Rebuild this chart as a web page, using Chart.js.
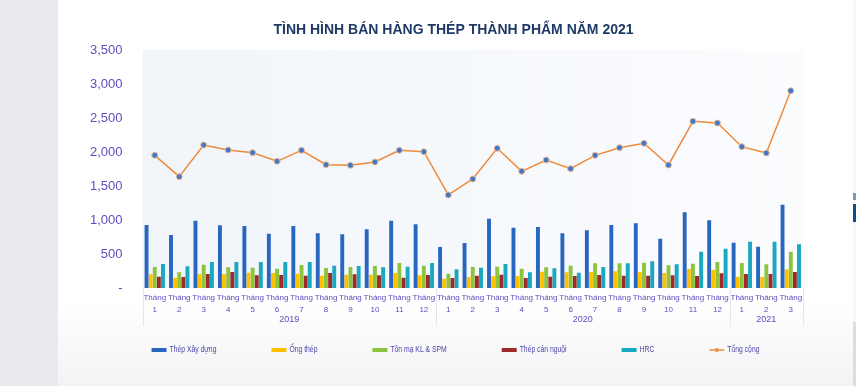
<!DOCTYPE html>
<html>
<head>
<meta charset="utf-8">
<script src="https://cdn.jsdelivr.net/npm/chart.js@4.4.0/dist/chart.umd.min.js"></script>
<style>
body { margin:0; width:856px; height:386px; overflow:hidden; position:relative; background:#e9eaee; }
#card { position:absolute; left:58px; top:0; width:795px; height:386px; background:linear-gradient(to bottom, #ffffff 78%, #f3f3f5); }
#edge { position:absolute; left:853px; top:0; width:3px; height:386px; background:#f7f7f8; }
#edge .a { position:absolute; left:0; top:193px; width:3px; height:7px; background:#6f9cc4; }
#edge .b { position:absolute; left:0; top:204px; width:3px; height:18px; background:#0b4f8f; }
#edge .c { position:absolute; left:0; top:322px; width:3px; height:64px; background:#dcdde3; }
</style>
</head>
<body>
<div id="card"><canvas id="myChart" width="795" height="386"></canvas></div>
<div id="edge"><div class="a"></div><div class="b"></div><div class="c"></div></div>
<script>
const months = ['1','2','3','4','5','6','7','8','9','10','11','12',
                '1','2','3','4','5','6','7','8','9','10','11','12',
                '1','2','3'];
const years = ['2019', '2020', '2021'];
const yearCounts = [12, 12, 3];

const thepXayDung = [926,779,990,922,912,799,912,804,789,863,990,936, 603,662,1019,887,897,804,848,926,951,725,1113,995, 667,608,1225];
const ongThep = [201,151,201,201,225,221,211,181,196,196,221,186, 137,162,172,176,240,231,235,245,231,221,279,265, 166,162,275];
const tonMa = [309,231,343,304,299,284,338,294,309,323,368,328, 211,309,314,284,304,328,363,363,373,333,358,382, 368,348,534];
const thepCanNguoi = [166,162,206,235,186,191,181,221,201,186,152,191, 147,181,196,147,166,176,191,181,181,186,176,216, 206,206,235];
const hrc = [353,319,382,382,382,382,382,328,323,304,314,368, 275,299,353,231,289,225,309,363,392,348,534,578, 681,681,642];
const tongCong = [1951,1637,2103,2029,1990,1863,2025,1813,1804,1853,2025,2004, 1368,1603,2054,1716,1882,1755,1951,2063,2128,1809,2451,2426, 2078,1985,2901];

const title = 'TÌNH HÌNH BÁN HÀNG THÉP THÀNH PHẨM NĂM 2021';
const labelColor = '#5a4fbf';
const fontFamily = '"Liberation Sans", Arial, sans-serif';

// title, plot background, year groups under the month labels, legend row
const groupPlugin = {
  id: 'groups',
  beforeDraw(chart) {
    const {ctx, chartArea: a} = chart;
    const g = ctx.createLinearGradient(a.left, 0, a.right, 0);
    g.addColorStop(0, '#f1f5fa');
    g.addColorStop(1, '#fbfcfe');
    ctx.save();
    ctx.fillStyle = g;
    ctx.fillRect(a.left, a.top, a.right - a.left, a.bottom - a.top);
    ctx.fillStyle = '#1f3a66';
    ctx.font = 'bold 14px ' + fontFamily;
    ctx.textAlign = 'center';
    ctx.textBaseline = 'middle';
    ctx.fillText(title, chart.width / 2 - 2, 30);
    ctx.restore();
  },
  afterDraw(chart) {
    const {ctx} = chart;
    const x = chart.scales.x;
    const half = (x.getPixelForValue(1) - x.getPixelForValue(0)) / 2;
    ctx.save();
    ctx.strokeStyle = '#e1e6ef';
    ctx.lineWidth = 1;
    ctx.fillStyle = labelColor;
    ctx.font = '9px ' + fontFamily;
    ctx.textAlign = 'center';
    ctx.textBaseline = 'middle';
    let start = 0;
    yearCounts.forEach((n, i) => {
      const left = x.getPixelForValue(start) - half;
      const right = x.getPixelForValue(start + n - 1) + half;
      [left, right].forEach(px => {
        ctx.beginPath();
        ctx.moveTo(Math.round(px) + 0.5, x.top);
        ctx.lineTo(Math.round(px) + 0.5, x.top + 38);
        ctx.stroke();
      });
      ctx.fillText(years[i], (left + right) / 2, x.top + 32);
      start += n;
    });

    // legend
    const gap = 55, box = 15, sx = 0.8, y = chart.height - 36;
    ctx.font = '8.5px ' + fontFamily;
    ctx.textAlign = 'left';
    const sets = chart.data.datasets;
    const widths = sets.map(d => box + 3 + ctx.measureText(d.label).width * sx);
    const total = widths.reduce((s, w) => s + w, 0) + gap * (sets.length - 1);
    let cx = (chart.width - total) / 2;
    sets.forEach((d, i) => {
      if (d.type === 'line') {
        ctx.strokeStyle = d.borderColor;
        ctx.lineWidth = 1.5;
        ctx.beginPath();
        ctx.moveTo(cx, y);
        ctx.lineTo(cx + box, y);
        ctx.stroke();
        ctx.beginPath();
        ctx.arc(cx + box / 2, y, 2, 0, Math.PI * 2);
        ctx.fillStyle = d.borderColor;
        ctx.fill();
      } else {
        ctx.fillStyle = d.backgroundColor;
        ctx.fillRect(cx, y - 2, box, 4);
      }
      ctx.save();
      ctx.translate(cx + box + 3, y);
      ctx.scale(sx, 1);
      ctx.fillStyle = '#4a44a8';
      ctx.fillText(d.label, 0, 0);
      ctx.restore();
      cx += widths[i] + gap;
    });
    ctx.restore();
  }
};

function bar(label, data, color) {
  return {
    type: 'bar', label: label, data: data,
    backgroundColor: color, borderWidth: 0,
    categoryPercentage: 0.84, barPercentage: 0.95, order: 1
  };
}

let ctx = document.getElementById('myChart');
let myChart = new Chart(ctx, {
  data: {
    labels: months.map(m => ['Tháng', m]),
    datasets: [
      bar('Thép Xây dựng', thepXayDung, '#2866c0'),
      bar('Ống thép', ongThep, '#ffc000'),
      bar('Tôn mạ KL & SPM', tonMa, '#8cc43f'),
      bar('Thép cán nguội', thepCanNguoi, '#9e2a2b'),
      bar('HRC', hrc, '#18a8c0'),
      {
        type: 'line', label: 'Tổng cộng', data: tongCong,
        borderColor: '#ef8a3c', backgroundColor: '#ef8a3c', borderWidth: 1.5,
        pointRadius: 3, pointBackgroundColor: '#3f78c8', pointBorderColor: '#f3b98f',
        pointBorderWidth: 1, order: 0
      }
    ]
  },
  options: {
    responsive: false,
    animation: false,
    layout: { padding: { top: 50, left: 12, right: 50, bottom: 57 } },
    plugins: {
      legend: { display: false },
      tooltip: { enabled: false }
    },
    scales: {
      x: {
        grid: { display: false, drawTicks: false },
        border: { display: false },
        ticks: {
          color: labelColor, autoSkip: false, maxRotation: 0, padding: 4,
          font: { family: fontFamily, size: 8, lineHeight: 1.5 }
        },
        afterFit: scale => { scale.height += 9; }
      },
      y: {
        min: 0, max: 3500,
        grid: { display: false, drawTicks: false },
        border: { display: false },
        ticks: {
          stepSize: 500, padding: 20, color: labelColor,
          font: { family: fontFamily, size: 13 },
          callback: v => v === 0 ? '-' : v.toLocaleString('en-US')
        }
      }
    }
  },
  plugins: [groupPlugin]
});
</script>
</body>
</html>
